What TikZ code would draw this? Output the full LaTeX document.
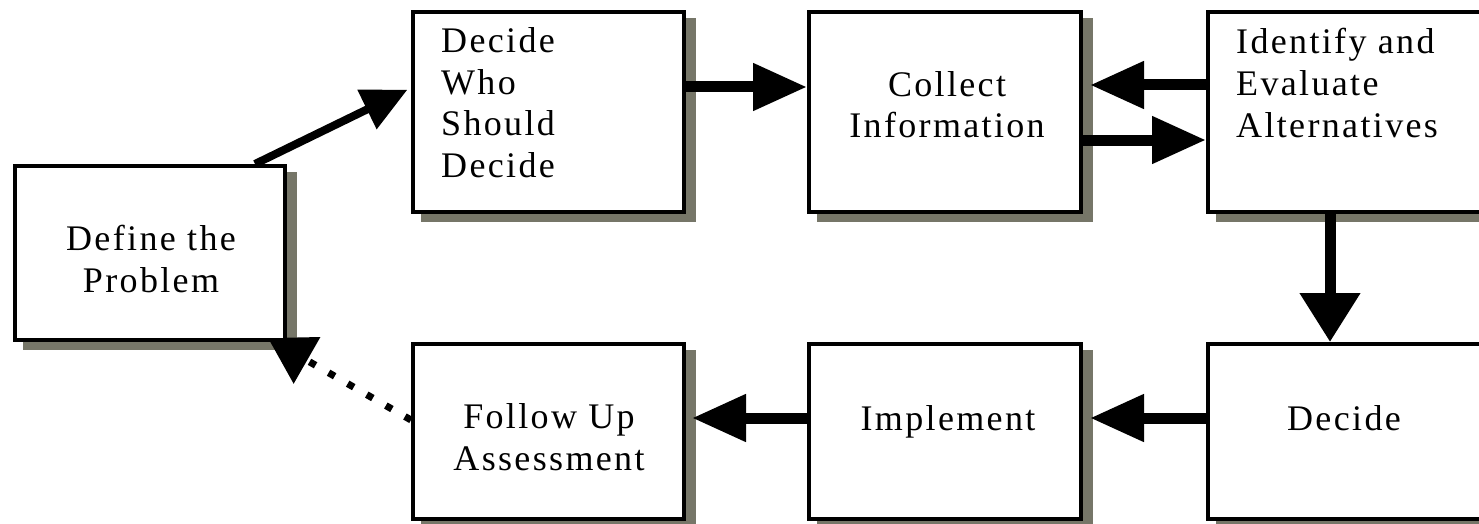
\documentclass[tikz,border=0pt]{standalone}
\usepackage{fontspec}
\setmainfont{Liberation Serif}[LetterSpace=6.5,Ligatures=CommonOff]
\usetikzlibrary{arrows.meta,calc}
\definecolor{shadowc}{RGB}{118,118,104}
\pgfdeclarelayer{shadowlayer}
\pgfdeclarelayer{arrowlayer}
\pgfsetlayers{shadowlayer,arrowlayer,main}
\begin{document}
\begin{tikzpicture}[x=1pt,y=-1pt,
  box/.style={draw=black,line width=4pt,fill=white,rectangle,inner sep=0pt},
  arr/.style={line width=11pt,-{Triangle[length=54pt,width=45pt]}},
  darr/.style={line width=8pt,-{Triangle[length=45pt,width=42pt]}},
  varr/.style={line width=11pt,-{Triangle[length=49pt,width=58pt]}},
  dotarr/.style={line width=7pt,dash pattern=on 7pt off 15pt,-{Triangle[length=45pt,width=52pt]}},
  lbl/.style={font=\fontsize{36}{41.5}\selectfont,inner sep=0pt}]
\useasboundingbox (0,0) rectangle (1479,524);
\clip (0,0) rectangle (1479,524);
% boxes
\node[box,minimum width=270pt,minimum height=174pt] (def) at (150,253) {};
\node[box,minimum width=271pt,minimum height=200pt] (who) at (548.5,112) {};
\node[box,minimum width=272pt,minimum height=200pt] (col) at (945,112) {};
\node[box,minimum width=292pt,minimum height=200pt] (ide) at (1354,112) {};
\node[box,minimum width=292pt,minimum height=175pt] (dec) at (1354,431.5) {};
\node[box,minimum width=272pt,minimum height=175pt] (imp) at (945,431.5) {};
\node[box,minimum width=271pt,minimum height=175pt] (fol) at (548.5,431.5) {};
% shadows
\begin{pgfonlayer}{shadowlayer}
\foreach \b in {def,who,col,ide,dec,imp,fol}{
  \fill[shadowc] ([shift={(10pt,-8pt)}]\b.south west) rectangle ([shift={(10pt,-8pt)}]\b.north east);
}
\end{pgfonlayer}
% labels (anchor = baseline of the last line)
\node[lbl,align=center,anchor=base] (tdef) at (151,292) {Define the\\Problem};
\node[lbl,align=left,anchor=base west] (twho) at (441,177) {Decide\\Who\\Should\\Decide};
\node[lbl,align=center,anchor=base] (tcol) at (947,138) {Collect\\Information};
\node[lbl,align=left,anchor=base west] (tide) at (1236,137) {Identify and\\Evaluate\\Alternatives};
\node[lbl,anchor=base] (tdec) at (1344,430) {Decide};
\node[lbl,anchor=base] (timp) at (948,430) {Implement};
\node[lbl,align=center,anchor=base] (tfol) at (549,470) {Follow Up\\Assessment};
% connectors
\draw[darr,shorten >=4pt] ([xshift=-32pt]def.north east) -- ([yshift=24pt]who.west);
\draw[arr] ([yshift=25pt]who.east) -- ([yshift=25pt]col.west);
\draw[arr,shorten >=7pt] ([yshift=27pt]ide.west) -- ([yshift=27pt]col.east);
\draw[arr] ([yshift=-28pt]col.east) -- ([yshift=-28pt]ide.west);
\draw[varr] ([xshift=124pt]ide.south west) -- ([xshift=124pt]dec.north west);
\draw[arr,shorten >=7pt] ([yshift=13.5pt]dec.west) -- ([yshift=13.5pt]imp.east);
\draw[arr,shorten >=6pt] ([yshift=13.5pt]imp.west) -- ([yshift=13.5pt]fol.east);
\begin{pgfonlayer}{arrowlayer}
\draw[dotarr] ([yshift=11.5pt]fol.west) -- ([shift={(-19pt,4pt)}]def.south east);
\end{pgfonlayer}
\end{tikzpicture}
\end{document}
